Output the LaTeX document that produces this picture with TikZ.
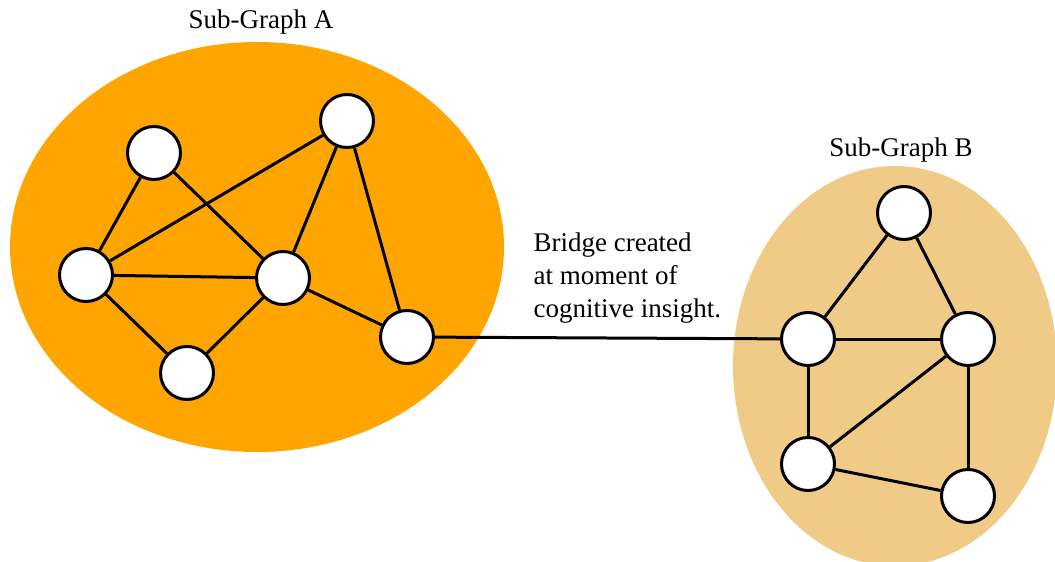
\documentclass[tikz,border=0pt]{standalone}
\usepackage{fontspec}
\setmainfont{Liberation Serif}
\usepackage{tikz}
\usetikzlibrary{positioning,shapes}
\definecolor{blobA}{HTML}{FFA500}
\definecolor{blobB}{HTML}{F0CA87}
\tikzset{
  vertex/.style = {circle, draw, fill=white, line width=3pt, minimum size=53pt, inner sep=0pt},
  link/.style   = {line width=3pt},
  title/.style  = {font=\fontsize{27}{33}\selectfont},
  blob/.style   = {draw=none}
}
\begin{document}
\begin{tikzpicture}[x=1pt,y=-1pt]
\useasboundingbox (0,0) rectangle (1055,562);

% the two coloured regions
\fill[blob, blobA] (257,247) ellipse [x radius=247, y radius=205];
\fill[blob, blobB] (895,366) ellipse [x radius=162, y radius=200];

\node[title] (ta) at (261,22) {Sub-Graph A};
\node[title] (tb) at (901,150) {Sub-Graph B};

% first cluster
\node[vertex] (a1) at (154,153) {};
\node[vertex] (a2) at (347,121) {};
\node[vertex] (a3) at (86,275) {};
\node[vertex] (a4) at (283,278) {};
\node[vertex] (a5) at (187,373) {};
\node[vertex] (a6) at (407,337) {};

% second cluster
\node[vertex] (b1) at (904,213) {};
\node[vertex] (b2) at (808,339) {};
\node[vertex] (b3) at (968,339) {};
\node[vertex] (b4) at (808,464) {};
\node[vertex] (b5) at (968,496) {};

\begin{scope}[every path/.style={link}]
\draw (a1) -- (a3);
\draw (a1) -- (a4);
\draw (a3) -- (a2);
\draw (a3) -- (a4);
\draw (a3) -- (a5);
\draw (a5) -- (a4);
\draw (a4) -- (a2);
\draw (a2) -- (a6);
\draw (a4) -- (a6);

\draw (b1) -- (b2);
\draw (b1) -- (b3);
\draw (b2) -- (b3);
\draw (b2) -- (b4);
\draw (b4) -- (b3);
\draw (b3) -- (b5);
\draw (b4) -- (b5);

% the bridge between the clusters
\draw (a6) -- (b2);
\end{scope}

\node[title, align=left, anchor=west] (bridge) at (530,278) {Bridge created\\at moment of\\cognitive insight.};
\end{tikzpicture}
\end{document}
